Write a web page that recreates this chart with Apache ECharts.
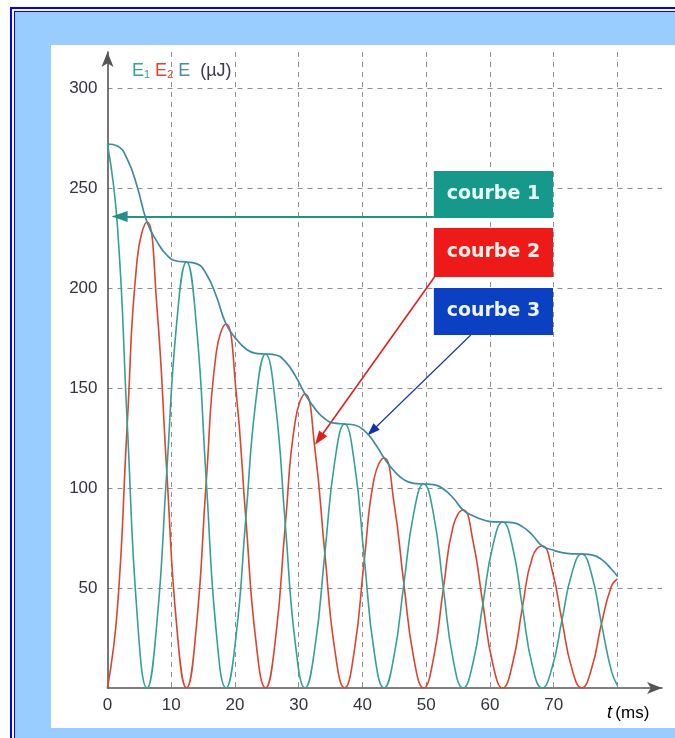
<!DOCTYPE html>
<html>
<head>
<meta charset="utf-8">
<script src="https://cdn.jsdelivr.net/npm/echarts@6/dist/echarts.min.js"></script>
<style>
html,body{margin:0;padding:0;width:675px;height:738px;overflow:hidden;background:#ffffff;}
#outer{position:absolute;left:10px;top:7px;width:720px;height:800px;border:2px solid #0000ff;box-sizing:border-box;background:#ffffff;}
#inner{position:absolute;left:14px;top:11px;width:720px;height:800px;border:1px solid #0000ff;box-sizing:border-box;background:#99ccff;}
#panel{position:absolute;left:51px;top:45px;width:640px;height:683px;background:#ffffff;}
#chart{position:absolute;left:0;top:0;width:675px;height:738px;}
</style>
</head>
<body>
<div id="outer"></div>
<div id="inner"></div>
<div id="panel"></div>
<div id="chart"></div>
<script>
// ---- data ----
const tMs = [0,1.55,3.1,4.65,6.2,7.75,9.3,10.85,12.4,13.95,15.5,17.05,18.6,20.15,21.7,23.25,24.8,26.35,27.9,29.45,31,32.55,34.1,35.65,37.2,38.75,40.3,41.85,43.4,44.95,46.5,48.05,49.6,51.15,52.7,54.25,55.8,57.35,58.9,60.45,62,63.55,65.1,66.65,68.2,69.75,71.3,72.85,74.4,75.95,77.5,79.05,80];
const e1 = [272,231.4,132.2,36.6,0,32.6,108.3,182.3,213,181.2,103.5,28.6,0,25.5,84.8,142.9,167,142.2,81.6,22.8,0,20.4,67.3,113.1,132,112.3,64.4,17.9,0,15.9,52.1,87.4,102,86.9,49.8,13.9,0,12.6,42.1,71.0,83,70.6,40.4,11.2,0,10.1,33.9,57.3,67,56.9,32.2,8.7,1.3];
const e2 = [0,39.6,132.2,214.2,233,190.7,108.2,31.2,0,31.0,103.5,167.5,182,149.2,84.8,24.4,0,24.3,81.6,133.4,147,119.3,67.3,19.3,0,19.2,64.3,104.9,115,92.7,52.1,14.9,0,14.8,49.7,81.1,89,73.5,42.0,12.1,0,12.1,40.3,65.3,71,59.0,33.8,9.8,0,9.7,32.1,50.8,54.6];
const eTotal = [272,271.0,264.4,250.8,233,223.3,216.5,213.5,213,212.2,207.0,196.1,182,174.7,169.6,167.3,167,166.5,163.2,156.2,147,139.7,134.6,132.4,132,131.5,128.7,122.8,115,108.6,104.2,102.3,102,101.7,99.5,95.0,89,86.1,84.1,83.1,83,82.7,80.7,76.5,71,69.1,67.7,67.1,67,66.6,64.3,59.5,55.9];
const xTickLabels = [0,10,20,30,40,50,60,70];
const yTickLabels = [50,100,150,200,250,300];
const boxTexts = ['courbe 1','courbe 2','courbe 3'];

// ---- annotations (data coordinates) ----
const boxes = [
  {t0:51.2, t1:69.9, v0:258.5, v1:235,   fill:'#16998b', txt:'#e8fffb'},
  {t0:51.2, t1:69.9, v0:230,   v1:205.5, fill:'#ee1a1a', txt:'#fff0ea'},
  {t0:51.2, t1:69.9, v0:200,   v1:176.5, fill:'#0c40c2', txt:'#eef4ff'}
];
const arrows = [
  {from:[51.2,235.8], to:[1.9,235.8], color:'#23918a', width:2.2, size:[11,16]},
  {from:[51.3,205.5], to:[33.2,124.5], color:'#e02020', width:1.6, size:[10,14]},
  {from:[57.0,176.5], to:[41.5,128.5], color:'#1030b0', width:1.1, size:[9,13]}
];

const fontLbl = '"Liberation Sans Narrow", "Liberation Sans", Arial, sans-serif';
const gridLine = {color:'#8f8f8f', type:[5,5], width:1};
const axisCol = '#555555';
const pairs = a => tMs.map((t,i)=>[t,a[i]]);

const chart = echarts.init(document.getElementById('chart'), null, {renderer:'canvas'});
const option = {
  animation:false,
  backgroundColor:'transparent',
  title:{
    left:127, top:57,
    text:'{a|E}{s1|1} {b|E}{s2|2} {c|E}  {d|(µJ)}',
    textStyle:{
      fontWeight:'normal',
      rich:{
        a:{color:'#3aa396', fontSize:18, fontWeight:'normal', fontFamily:fontLbl},
        s1:{color:'#3aa396', fontSize:11, fontWeight:'normal', fontFamily:fontLbl, verticalAlign:'bottom'},
        b:{color:'#dd4433', fontSize:18, fontWeight:'normal', fontFamily:fontLbl},
        s2:{color:'#dd4433', fontSize:11, fontWeight:'normal', fontFamily:fontLbl, verticalAlign:'bottom'},
        c:{color:'#4a8aaa', fontSize:18, fontWeight:'normal', fontFamily:fontLbl},
        d:{color:'#3a3a48', fontSize:18, fontWeight:'normal', fontFamily:fontLbl}
      }
    }
  },
  grid:{left:107.5, right:13, top:52, bottom:50, containLabel:false},
  xAxis:{
    type:'value', min:0, max:87, interval:10,
    axisLine:{show:true, symbol:['none','arrow'], symbolSize:[9,15], lineStyle:{color:axisCol, width:1.6}},
    axisTick:{show:false},
    axisLabel:{margin:9, color:'#33333f', fontSize:17, fontFamily:fontLbl, showMaxLabel:false,
      formatter:v=>xTickLabels.includes(v)?String(v):''},
    splitLine:{show:true, showMinLine:false, showMaxLine:false, lineStyle:gridLine}
  },
  yAxis:{
    type:'value', min:0, max:318, interval:50,
    axisLine:{show:true, symbol:['none','arrow'], symbolSize:[9,15], lineStyle:{color:axisCol, width:1.6}},
    axisTick:{show:false},
    axisLabel:{margin:10, color:'#33333f', fontSize:17, fontFamily:fontLbl, showMaxLabel:false,
      formatter:v=>yTickLabels.includes(v)?String(v):''},
    splitLine:{show:true, showMinLine:false, showMaxLine:false, lineStyle:gridLine}
  },
  series:[
    {name:'E2', type:'line', data:pairs(e2), smooth:0.5, symbol:'none', lineStyle:{color:'#d9452f', width:1.6}, z:3},
    {name:'E1', type:'line', data:pairs(e1), smooth:0.5, symbol:'none', lineStyle:{color:'#35a194', width:1.6}, z:4},
    {name:'E', type:'line', data:pairs(eTotal), smooth:0.5, symbol:'none', lineStyle:{color:'#3f8aa2', width:1.7}, z:5,
      markLine:{
        silent:true, animation:false, label:{show:false},
        data: arrows.map(a=>[
          {coord:a.from, symbol:'none', lineStyle:{color:a.color, width:a.width, type:'solid'}},
          {coord:a.to, symbol:'triangle', symbolSize:a.size, itemStyle:{color:a.color}}
        ])
      }
    }
  ]
};
chart.setOption(option);

const graphics = [];
boxes.forEach((b,i)=>{
  const p0 = chart.convertToPixel({gridIndex:0}, [b.t0, b.v0]);
  const p1 = chart.convertToPixel({gridIndex:0}, [b.t1, b.v1]);
  graphics.push({type:'rect', z:100, shape:{x:p0[0], y:p0[1], width:p1[0]-p0[0], height:p1[1]-p0[1]}, style:{fill:b.fill}});
  graphics.push({type:'text', z:101, x:(p0[0]+p1[0])/2, y:(p0[1]+p1[1])/2,
    style:{text:boxTexts[i], fill:b.txt, font:'bold 19px "DejaVu Sans", Verdana, sans-serif', align:'center', verticalAlign:'middle'}});
});
graphics.push({type:'text', z:101, x:607, y:704,
  style:{text:'{i|t} {n|(ms)}', rich:{i:{fontStyle:'italic', fontSize:18, fontFamily:fontLbl, color:'#3a3a48'}, n:{fontSize:17, fontFamily:fontLbl, color:'#3a3a48'}}}});
chart.setOption({graphic:graphics});
</script>
</body>
</html>
